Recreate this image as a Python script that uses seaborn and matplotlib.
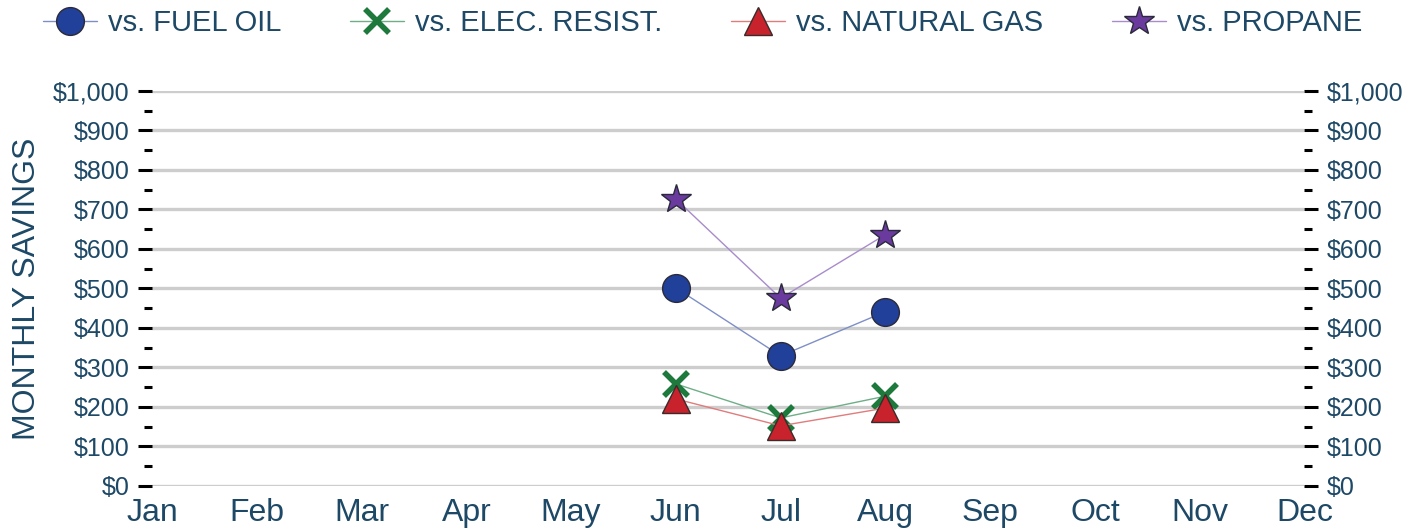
import matplotlib
matplotlib.use("Agg")
import matplotlib.pyplot as plt
from matplotlib.ticker import MultipleLocator, FuncFormatter
import seaborn as sns
import pandas as pd

months = ["Jan", "Feb", "Mar", "Apr", "May", "Jun", "Jul", "Aug", "Sep", "Oct", "Nov", "Dec"]
data_months = ["Jun", "Jul", "Aug"]

fuel_oil = [501, 329, 441]
elec_resist = [258, 172, 227]
natural_gas = [220, 152, 197]
propane = [726, 475, 636]

series_labels = ["vs. FUEL OIL", "vs. ELEC. RESIST.", "vs. NATURAL GAS", "vs. PROPANE"]

sns.set_theme(style="white")
plt.rcParams["font.family"] = ["Liberation Sans", "DejaVu Sans"]
text_color = "#1d4866"

fig = plt.figure(figsize=(14.21, 5.31), dpi=100)
ax = fig.add_axes([0.107, 0.085, 0.811, 0.744])

styles = [
    dict(values=fuel_oil, line="#7e8fc6", face="#21409a", marker="o", ms=20, mew=1.0, edge="#2a2a3a"),
    dict(values=elec_resist, line="#6fae88", face="#1e7a3c", marker="x", ms=17, mew=4.0, edge="#1e7a3c"),
    dict(values=natural_gas, line="#e07c7c", face="#c8232c", marker="^", ms=20, mew=1.0, edge="#3a2a2a"),
    dict(values=propane, line="#a88ccb", face="#6a3a9e", marker="*", ms=22, mew=1.0, edge="#2a2a3a"),
]

pos = {m: i for i, m in enumerate(months)}
for label, st in zip(series_labels, styles):
    df = pd.DataFrame({"x": [pos[m] for m in data_months], "y": st["values"]})
    sns.lineplot(
        data=df, x="x", y="y", ax=ax, color=st["line"], linewidth=1.0,
        marker=st["marker"], markersize=st["ms"], markerfacecolor=st["face"],
        markeredgecolor=st["edge"], markeredgewidth=st["mew"], label=label,
        clip_on=False, zorder=3,
    )

ax.set_xlim(0, 11)
ax.set_ylim(0, 1000)
ax.set_xticks(range(len(months)))
ax.set_xticklabels(months)
ax.tick_params(axis="x", length=0, labelsize=23, labelcolor=text_color, pad=9)

ax.yaxis.set_major_locator(MultipleLocator(100))
ax.yaxis.set_minor_locator(MultipleLocator(50))
ax.yaxis.set_major_formatter(FuncFormatter(lambda v, p: f"${v:,.0f}"))
ax.tick_params(axis="y", which="major", length=10, width=2.2, color="black",
               labelsize=18, labelcolor=text_color, pad=6, left=True, right=True,
               labelleft=True, labelright=True, direction="out")
ax.tick_params(axis="y", which="minor", length=5.5, width=2.2, color="black",
               left=True, right=True, direction="out")

ax.grid(axis="y", which="major", color="#cdcdcd", linewidth=2.4)
ax.grid(axis="x", visible=False)
for s in ax.spines.values():
    s.set_visible(False)

ax.set_xlabel("")
ax.set_ylabel("MONTHLY SAVINGS", fontsize=23, color=text_color, labelpad=8)

handles, labels = ax.get_legend_handles_labels()
ax.get_legend().remove()
fig.legend(handles, labels, loc="center left", bbox_to_anchor=(43 / 1421, 1 - 23 / 531),
           ncol=4, frameon=False, fontsize=21, labelcolor=text_color, handlelength=1.85,
           handletextpad=0.38, columnspacing=2.36, borderaxespad=0, borderpad=0)

fig.savefig("out.png", dpi=100)
